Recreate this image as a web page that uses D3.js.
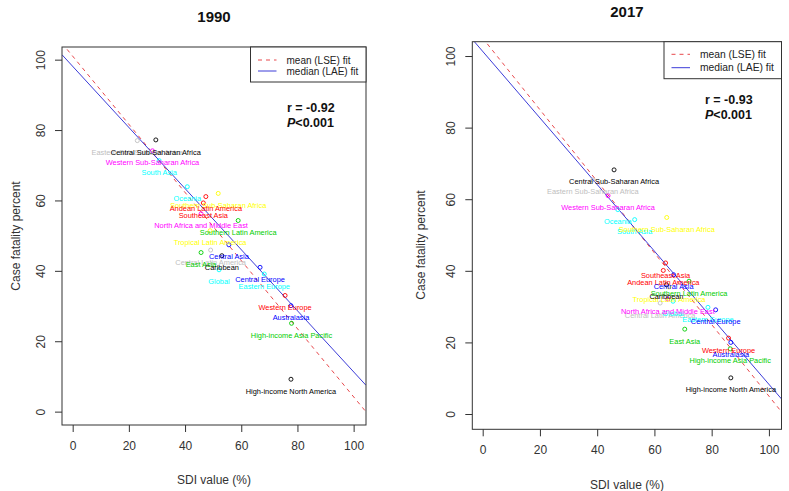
<!DOCTYPE html>
<html>
<head>
<meta charset="utf-8">
<script src="https://cdn.jsdelivr.net/npm/d3@7"></script>
<style>
  body { margin: 0; background: #fff; }
  text { font-family: "Liberation Sans", Arial, sans-serif; }
</style>
</head>
<body>
<div id="chart"></div>
<script>
// region names (draw order matters for overlapping labels)
const regions = [
  "Eastern Sub-Saharan Africa", "Central Sub-Saharan Africa", "Western Sub-Saharan Africa",
  "South Asia", "Oceania", "Southern Sub-Saharan Africa", "Andean Latin America",
  "Southeast Asia", "Central Latin America", "Global", "North Africa and Middle East",
  "Southern Latin America", "Tropical Latin America", "East Asia", "Caribbean",
  "Central Asia", "Eastern Europe", "Central Europe", "Western Europe", "Australasia",
  "High-income Asia Pacific", "High-income North America"
];
const regionColors = [
  "#BEBEBE", "#000000", "#FF00FF",
  "#00FFFF", "#00FFFF", "#FFFF00", "#FF0000",
  "#FF0000", "#BEBEBE", "#00FFFF", "#FF00FF",
  "#00CD00", "#FFFF00", "#00CD00", "#000000",
  "#0000FF", "#00FFFF", "#0000FF", "#FF0000", "#0000FF",
  "#00CD00", "#000000"
];

// SDI (%) and case fatality (%) per region
const sdi1990 = [23.0, 29.6, 28.4, 30.8, 40.8, 51.8, 47.4, 46.5, 49.1, 52.1, 45.7,
                 58.9, 48.9, 45.7, 53.1, 55.6, 68.2, 66.7, 75.6, 77.7, 77.9, 77.7];
const cfr1990 = [77.0, 77.2, 74.1, 71.3, 63.9, 62.0, 61.1, 59.3, 45.9, 40.3, 56.2,
                 54.3, 51.4, 45.2, 44.3, 47.4, 39.1, 41.0, 33.0, 30.1, 25.1, 9.2];
const sdi2017 = [38.5, 45.9, 43.8, 53.1, 47.2, 64.3, 63.1, 63.9, 62.0, 66.5, 64.7,
                 72.1, 65.1, 70.6, 64.2, 66.7, 78.7, 81.4, 85.9, 86.7, 86.5, 86.7];
const cfr2017 = [65.4, 68.2, 61.0, 54.3, 57.1, 54.9, 40.1, 42.2, 31.0, 31.5, 32.1,
                 37.1, 35.5, 23.7, 36.1, 38.9, 29.8, 29.1, 21.2, 20.0, 18.2, 10.1];

// fitted lines: [intercept, slope]
const lse1990 = [101.0, -0.968];
const lae1990 = [98.1, -0.868];
const lse2017 = [105.0, -1.0];
const lae2017 = [101.3, -0.93];

const rValues = ["-0.92", "-0.93"];
const years = ["1990", "2017"];
const xTicks = [0, 20, 40, 60, 80, 100];
const yTicks = [0, 20, 40, 60, 80, 100];
const legendLabels = ["mean (LSE) fit", "median (LAE) fit"];

const W = 789, H = 491;
const svg = d3.select("#chart").append("svg")
  .attr("width", W).attr("height", H)
  .style("display", "block");

const panels = [
  { year: years[0], sdi: sdi1990, cfr: cfr1990, lse: lse1990, lae: lae1990, r: rValues[0],
    box: {x0: 62, x1: 366, y0: 47, y1: 425}, xd: [-3.8, 104.4], yd: [-3.8, 103.6],
    titleY: 21.5, ylabX: 19.5, ylabY: 236, xlabY: 483.5,
    leg: {w: 115.5, h: 35, r1: 13, r2: 24, fs: 10}, stat: {dx: 225, dy: 65} },
  { year: years[1], sdi: sdi2017, cfr: cfr2017, lse: lse2017, lae: lae2017, r: rValues[1],
    box: {x0: 472.3, x1: 781.5, y0: 41.7, y1: 429.3}, xd: [-3.63, 104.4], yd: [-4.27, 104.0],
    titleY: 16.5, ylabX: 424.5, ylabY: 245, xlabY: 488.5,
    leg: {w: 117.5, h: 37, r1: 12.6, r2: 26, fs: 10.3}, stat: {dx: 232.7, dy: 62.5} }
];

panels.forEach((p, pi) => {
  const b = p.box;
  const x = d3.scaleLinear().domain(p.xd).range([b.x0, b.x1]);
  const y = d3.scaleLinear().domain(p.yd).range([b.y1, b.y0]);
  const g = svg.append("g");

  // title
  g.append("text").attr("x", (b.x0 + b.x1) / 2).attr("y", p.titleY)
    .attr("text-anchor", "middle").attr("font-size", 15).attr("font-weight", "bold")
    .attr("fill", "#111").text(p.year);

  // clip for fit lines
  const clipId = "clip" + pi;
  svg.append("clipPath").attr("id", clipId).append("rect")
    .attr("x", b.x0).attr("y", b.y0).attr("width", b.x1 - b.x0).attr("height", b.y1 - b.y0);

  // x axis
  const xa = g.append("g").attr("transform", `translate(0,${b.y1})`)
    .call(d3.axisBottom(x).tickValues(xTicks).tickSize(7).tickPadding(9).tickSizeOuter(0));
  xa.select(".domain").remove();
  xa.selectAll("line").attr("stroke", "#333");
  xa.selectAll("text").attr("font-size", 12).attr("fill", "#333")
    .attr("font-family", "Liberation Sans, Arial, sans-serif");

  // y axis (rotated labels, R style)
  const ya = g.append("g").attr("transform", `translate(${b.x0},0)`)
    .call(d3.axisLeft(y).tickValues(yTicks).tickSize(7).tickSizeOuter(0));
  ya.select(".domain").remove();
  ya.selectAll("line").attr("stroke", "#333");
  ya.selectAll("text")
    .attr("font-size", 12).attr("fill", "#333")
    .attr("font-family", "Liberation Sans, Arial, sans-serif")
    .attr("x", null).attr("dy", null)
    .attr("text-anchor", "middle")
    .attr("transform", "translate(-17,0) rotate(-90)");

  // axis titles
  g.append("text").attr("x", (b.x0 + b.x1) / 2).attr("y", p.xlabY)
    .attr("text-anchor", "middle").attr("font-size", 12).attr("fill", "#333")
    .text("SDI value (%)");
  g.append("text").attr("transform", `translate(${p.ylabX},${p.ylabY}) rotate(-90)`)
    .attr("text-anchor", "middle").attr("font-size", 12).attr("fill", "#333")
    .text("Case fatality percent");

  // fit lines
  const lines = g.append("g").attr("clip-path", `url(#${clipId})`);
  const fitPts = c => p.xd.map(v => [x(v), y(c[0] + c[1] * v)]);
  lines.append("path").attr("d", d3.line()(fitPts(p.lse)))
    .attr("fill", "none").attr("stroke", "#E8484C").attr("stroke-width", 1)
    .attr("stroke-dasharray", "4,4");
  lines.append("path").attr("d", d3.line()(fitPts(p.lae)))
    .attr("fill", "none").attr("stroke", "#3C3CD8").attr("stroke-width", 1);

  // points and labels
  const data = regions.map((name, i) => ({name, sdi: p.sdi[i], cfr: p.cfr[i], col: regionColors[i]}));
  g.append("g").selectAll("circle").data(data).join("circle")
    .attr("cx", d => x(d.sdi)).attr("cy", d => y(d.cfr)).attr("r", 2)
    .attr("fill", "none").attr("stroke", d => d.col).attr("stroke-width", 0.9);
  g.append("g").selectAll("text").data(data).join("text")
    .attr("x", d => x(d.sdi)).attr("y", d => y(d.cfr) + 14.6)
    .attr("text-anchor", "middle").attr("font-size", 7.4)
    .attr("fill", d => d.col).text(d => d.name);

  // plot box
  g.append("rect").attr("x", b.x0).attr("y", b.y0)
    .attr("width", b.x1 - b.x0).attr("height", b.y1 - b.y0)
    .attr("fill", "none").attr("stroke", "#333").attr("stroke-width", 1);

  // legend
  const L = p.leg;
  const lg = g.append("g").attr("transform", `translate(${b.x1 - L.w},${b.y0})`);
  lg.append("rect").attr("width", L.w).attr("height", L.h)
    .attr("fill", "#fff").attr("stroke", "#333").attr("stroke-width", 1);
  [[L.r1, "#E8484C", "4,4"], [L.r2, "#3C3CD8", null]].forEach((e, k) => {
    lg.append("line").attr("x1", 7.5).attr("x2", 26).attr("y1", e[0]).attr("y2", e[0])
      .attr("stroke", e[1]).attr("stroke-dasharray", e[2]);
    lg.append("text").attr("x", 36).attr("y", e[0] + 3.6)
      .attr("font-size", L.fs).attr("fill", "#222").text(legendLabels[k]);
  });

  // correlation annotation
  const st = g.append("g").attr("transform", `translate(${b.x0 + p.stat.dx},${b.y0 + p.stat.dy})`)
    .attr("font-family", "Liberation Serif, Times New Roman, serif")
    .attr("font-size", 12.5).attr("font-weight", "bold").attr("fill", "#111");
  st.append("text").attr("font-family", "Liberation Serif, Times New Roman, serif")
    .text("r = " + p.r);
  const pt = st.append("text").attr("y", 15)
    .attr("font-family", "Liberation Serif, Times New Roman, serif");
  pt.append("tspan").attr("font-style", "italic").text("P");
  pt.append("tspan").text("<0.001");
});
</script>
</body>
</html>
